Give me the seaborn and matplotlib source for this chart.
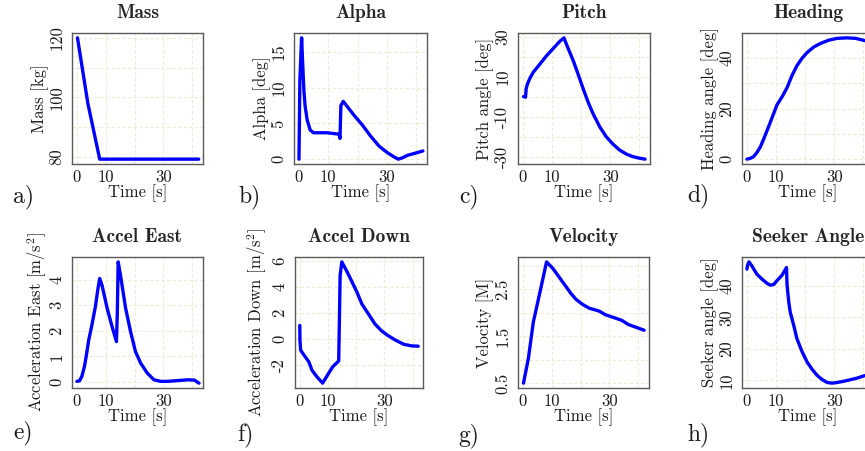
import matplotlib
matplotlib.use("Agg")
import matplotlib.pyplot as plt
import seaborn as sns

# ---------------- data ----------------
mass_t = [0.2, 3.8, 7.9, 42.2]
mass_kg = [120, 98, 79.3, 79.3]

alpha_t = [0.0, 0.3, 0.9, 1.3, 1.7, 2.1, 2.8, 3.8, 4.9, 9.5, 13.7, 14.0, 14.3, 15.1,
           18.7, 21.6, 24.5, 27.4, 30.2, 32.5, 33.9, 35.4, 37.1, 39.4, 42.3]
alpha_deg = [0.0, 11.0, 17.0, 13.0, 9.5, 7.4, 5.5, 4.1, 3.7, 3.7, 3.5, 2.9, 7.5, 8.1,
             6.2, 4.8, 3.2, 1.8, 0.9, 0.3, 0.0, 0.2, 0.55, 0.8, 1.15]

pitch_t = [0.2, 0.9, 1.1, 1.6, 2.5, 3.6, 5.9, 8.2, 10.5, 12.7, 14.1, 15.6, 17.3, 19.0,
           20.7, 22.4, 24.1, 26.4, 28.6, 30.9, 33.2, 35.5, 37.7, 40.0, 42.0]
pitch_deg = [0.0, -0.3, 4.0, 6.5, 9.5, 12.3, 16.4, 20.6, 24.2, 27.7, 29.4, 23.9, 18.0, 11.1,
             4.0, -2.7, -8.5, -15.1, -20.0, -23.7, -26.7, -28.7, -30.0, -30.8, -31.3]

heading_t = [0.0, 1.1, 2.3, 3.4, 4.6, 5.7, 7.5, 9.0, 10.3, 12.1, 13.8, 15.5, 17.2, 19.0,
             20.7, 23.0, 25.3, 28.2, 31.0, 34.5, 37.4, 40.2, 42.0]
heading_deg = [0.0, 0.3, 1.0, 2.6, 4.8, 7.8, 13.0, 17.5, 21.4, 24.7, 28.3, 33.1, 37.0, 40.0,
               42.2, 44.4, 45.8, 47.1, 47.8, 48.0, 47.8, 47.0, 46.5]

east_t = [0.0, 0.9, 1.7, 2.6, 3.3, 4.1, 5.2, 6.4, 7.3, 7.9, 8.7, 10.5, 12.2, 13.7, 14.0,
          14.3, 15.1, 16.9, 18.6, 20.3, 22.1, 24.4, 26.7, 29.0, 31.4, 34.9, 38.4, 40.7, 42.3]
east_acc = [0.03, 0.05, 0.22, 0.6, 1.06, 1.64, 2.23, 2.94, 3.65, 4.04, 3.78, 2.87, 2.16, 1.58, 2.68,
            4.69, 4.17, 2.87, 1.97, 1.19, 0.74, 0.35, 0.09, 0.03, 0.03, 0.06, 0.09, 0.08, -0.04]

down_t = [0.0, 0.05, 0.3, 1.5, 3.2, 4.3, 6.0, 8.1, 10.0, 11.7, 13.8, 14.0, 14.3, 14.9,
          16.9, 18.6, 20.3, 22.0, 24.3, 26.6, 28.8, 31.1, 34.0, 36.8, 39.7, 42.0]
down_acc = [1.04, -0.1, -0.87, -1.25, -1.76, -2.4, -2.9, -3.41, -2.73, -2.14, -1.7, 0.8, 4.87, 5.94,
            5.12, 4.36, 3.59, 2.7, 1.94, 1.17, 0.66, 0.28, -0.1, -0.41, -0.54, -0.56]

vel_t = [0.2, 1.9, 3.6, 5.9, 8.2, 10.5, 13.9, 16.7, 18.4, 20.7, 23.0, 26.4, 28.6, 32.0,
         34.3, 36.6, 38.9, 42.0]
vel_mach = [0.5, 1.03, 1.8, 2.44, 3.09, 2.94, 2.65, 2.41, 2.29, 2.18, 2.1, 2.04, 1.96, 1.89,
            1.84, 1.75, 1.7, 1.63]

seeker_t = [0.0, 0.2, 0.7, 1.7, 3.4, 5.2, 6.9, 8.0, 9.2, 10.3, 12.1, 13.6, 13.8, 14.4, 14.9,
            16.1, 17.2, 19.0, 20.7, 22.4, 24.1, 25.9, 27.6, 29.3, 31.0, 33.3, 35.6, 37.9, 40.2, 42.0]
seeker_deg = [45.3, 46.5, 47.6, 46.3, 43.7, 42.1, 40.8, 40.2, 40.4, 41.6, 43.4, 45.8, 40.2, 34.7, 31.6,
              27.4, 23.2, 19.0, 15.8, 13.5, 11.6, 10.2, 9.3, 9.1, 9.3, 9.7, 10.2, 10.7, 11.4, 11.8]

titles = ["Mass", "Alpha", "Pitch", "Heading", "Accel East", "Accel Down", "Velocity", "Seeker Angle"]
ylabels = ["Mass [kg]", "Alpha [deg]", "Pitch angle [deg]", "Heading angle [deg]",
           r"Acceleration East [m/s$^2$]", r"Acceleration Down [m/s$^2$]", "Velocity [M]", "Seeker angle [deg]"]
letters = ["a)", "b)", "c)", "d)", "e)", "f)", "g)", "h)"]

x_ticks = [0, 10, 20, 30, 40]
x_ticklabels = ["0", "10", "", "30", ""]

mass_ticks = [80, 90, 100, 110, 120]
mass_labels = ["80", "", "100", "", "120"]
alpha_ticks = [0, 5, 10, 15]
alpha_labels = ["0", "5", "10", "15"]
pitch_ticks = [-30, -20, -10, 0, 10, 20, 30]
pitch_labels = ["-30", "", "-10", "", "10", "", "30"]
heading_ticks = [0, 10, 20, 30, 40]
heading_labels = ["0", "", "20", "", "40"]
east_ticks = [0, 1, 2, 3, 4]
east_labels = ["0", "1", "2", "3", "4"]
down_ticks = [-2, 0, 2, 4, 6]
down_labels = ["-2", "0", "2", "4", "6"]
vel_ticks = [0.5, 1.0, 1.5, 2.0, 2.5, 3.0]
vel_labels = ["0.5", "", "1.5", "", "2.5", ""]
seeker_ticks = [10, 20, 30, 40]
seeker_labels = ["10", "20", "30", "40"]

series = [(mass_t, mass_kg, mass_ticks, mass_labels),
          (alpha_t, alpha_deg, alpha_ticks, alpha_labels),
          (pitch_t, pitch_deg, pitch_ticks, pitch_labels),
          (heading_t, heading_deg, heading_ticks, heading_labels),
          (east_t, east_acc, east_ticks, east_labels),
          (down_t, down_acc, down_ticks, down_labels),
          (vel_t, vel_mach, vel_ticks, vel_labels),
          (seeker_t, seeker_deg, seeker_ticks, seeker_labels)]

# ---------------- layout (pixels) ----------------
W, H = 865, 451
lefts = [72, 294, 518, 742, 72, 295, 518, 742]
tops = [33, 33, 33, 33, 257, 257, 257, 257]
widths = [131, 133, 132, 132, 131, 128, 131, 132]
AX_H = 131
ylab_off = [32, 32, 33, 32, 35, 38, 33, 32]
letter_xy = [(13, 197), (238, 197), (459, 197), (687, 196),
             (13, 433), (237, 435), (458, 436), (687, 435)]

sns.set_style("white")
plt.rcParams['font.family'] = ['cmr10', 'DejaVu Serif']
plt.rcParams['mathtext.fontset'] = 'cm'
plt.rcParams['axes.unicode_minus'] = False
plt.rcParams['axes.formatter.use_mathtext'] = True

fig = plt.figure(figsize=(W / 100, H / 100), dpi=100)
fig.patch.set_facecolor('white')

FS_TICK = 12
FS_LAB = 12
for i, (t, v, yt, yl) in enumerate(series):
    left, top, w = lefts[i], tops[i], widths[i]
    ax = fig.add_axes([left / W, 1 - (top + AX_H) / H, w / W, AX_H / H])
    ax.set_axisbelow(True)
    sns.lineplot(x=t, y=v, ax=ax, color='#0000FF', linewidth=2.4,
                 sort=False, estimator=None,
                 solid_capstyle='round', solid_joinstyle='round')
    ax.set_xlim(-1.7, 43.7)
    ymin, ymax = min(v), max(v)
    r = ymax - ymin
    ax.set_ylim(ymin - 0.04 * r, ymax + 0.04 * r)

    ax.set_xticks(x_ticks)
    ax.set_xticklabels(x_ticklabels)
    ax.set_yticks(yt)
    ax.set_yticklabels(yl)
    ax.grid(True, color='#EFEAD6', linestyle=(0, (3, 2)), linewidth=0.8)
    for s in ax.spines.values():
        s.set_color('#5a5a5a')
        s.set_linewidth(1.0)
    ax.tick_params(direction='out', length=4, width=0.8, color='#5a5a5a',
                   labelsize=FS_TICK, labelcolor='#1a1a1a', pad=0.3)
    ax.tick_params(axis='y', labelrotation=90, pad=1.5)
    plt.setp(ax.get_yticklabels(), va='center')

    ax.set_title(titles[i], fontfamily='cmb10', fontsize=14, pad=11)
    ax.set_xlabel("Time [s]", fontsize=FS_LAB, color='#1a1a1a')
    ax.xaxis.set_label_coords(0.5, -29 / AX_H)
    ax.xaxis.label.set_va('center')
    ax.set_ylabel(ylabels[i], fontsize=FS_LAB, color='#1a1a1a')
    ax.yaxis.set_label_coords(-ylab_off[i] / w, 0.5)
    ax.yaxis.label.set_va('center')

    lx, ly = letter_xy[i]
    fig.text(lx / W, 1 - ly / H, letters[i], fontsize=17, ha='left', va='center', color='#1a1a1a')

fig.savefig("out.png", dpi=100, facecolor='white')
